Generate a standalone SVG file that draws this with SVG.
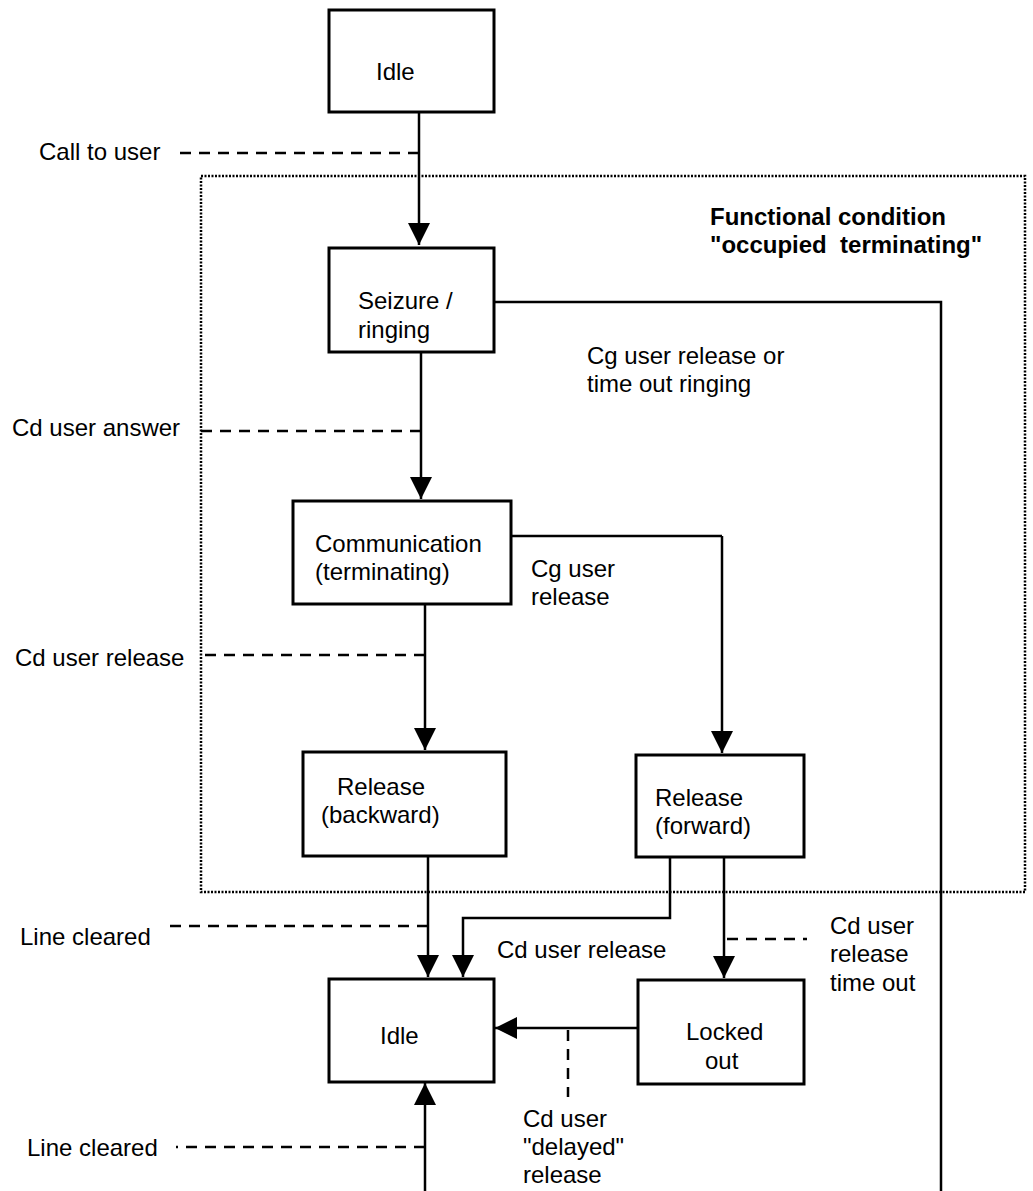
<svg xmlns="http://www.w3.org/2000/svg" width="1033" height="1191" viewBox="0 0 1033 1191">
<defs>
<marker id="arr" markerUnits="userSpaceOnUse" markerWidth="24" markerHeight="24" refX="22" refY="11" orient="auto">
<path d="M0,0 L22,11 L0,22 Z" fill="#000"/>
</marker>
<style>
text{font-family:"Liberation Sans",Arial,sans-serif;font-size:24px;fill:#000}
.b{font-weight:bold}
.box{fill:#fff;stroke:#000;stroke-width:3}
.ln{fill:none;stroke:#000;stroke-width:2.5}
.ar{fill:none;stroke:#000;stroke-width:2.5;marker-end:url(#arr)}
.dash{fill:none;stroke:#000;stroke-width:2.5;stroke-dasharray:11 8}
.dot{fill:none;stroke:#000;stroke-width:2.5;stroke-dasharray:2 1.5}
</style>
</defs>
<rect width="1033" height="1191" fill="#fff"/>

<g id="area">
<rect class="dot" x="201" y="176" width="824" height="716"/>
<text class="b" x="710" y="225">Functional condition</text>
<text class="b" x="710" y="253" xml:space="preserve">"occupied  terminating"</text>
</g>

<g id="connectors">
<path class="ar" d="M419,112 V245"/>
<path class="ln" d="M494,302 H941 V1191"/>
<path class="ar" d="M421,352 V499"/>
<path class="ln" d="M511,536 H722"/>
<path class="ar" d="M722,536 V753"/>
<path class="ar" d="M425,604 V750"/>
<path class="ar" d="M428,856 V977"/>
<path class="ar" d="M670,857 V918 H463 V977"/>
<path class="ar" d="M724,857 V978"/>
<path class="ar" d="M638,1028 H495"/>
<path class="ar" d="M425,1191 V1083"/>
<path class="dash" d="M419,153 H174"/>
<path class="dash" d="M421,431 H195"/>
<path class="dash" d="M425,655 H199"/>
<path class="dash" d="M428,926 H165"/>
<path class="dash" d="M727,939 H807"/>
<path class="dash" d="M568,1030 V1097"/>
<path class="dash" d="M425,1147 H176"/>
</g>

<g id="idle-top">
<rect class="box" x="329" y="10" width="165" height="102"/>
<text x="376" y="80">Idle</text>
</g>
<g id="seizure">
<rect class="box" x="329" y="248" width="165" height="104"/>
<text x="358" y="309">Seizure /</text>
<text x="358" y="338">ringing</text>
</g>
<g id="communication">
<rect class="box" x="293" y="501" width="218" height="103"/>
<text x="315" y="552">Communication</text>
<text x="315" y="580">(terminating)</text>
</g>
<g id="release-backward">
<rect class="box" x="303" y="752" width="203" height="104"/>
<text x="337" y="795">Release</text>
<text x="321" y="823">(backward)</text>
</g>
<g id="release-forward">
<rect class="box" x="636" y="755" width="168" height="102"/>
<text x="655" y="806">Release</text>
<text x="655" y="834">(forward)</text>
</g>
<g id="idle-bottom">
<rect class="box" x="329" y="979" width="165" height="103"/>
<text x="380" y="1044">Idle</text>
</g>
<g id="locked-out">
<rect class="box" x="638" y="980" width="166" height="104"/>
<text x="686" y="1040">Locked</text>
<text x="705" y="1069">out</text>
</g>

<g id="labels">
<text x="39" y="160">Call to user</text>
<text x="587" y="364">Cg user release or</text>
<text x="587" y="392">time out ringing</text>
<text x="12" y="436">Cd user answer</text>
<text x="531" y="577">Cg user</text>
<text x="531" y="605">release</text>
<text x="15" y="666">Cd user release</text>
<text x="20" y="945">Line cleared</text>
<text x="497" y="958">Cd user release</text>
<text x="830" y="934">Cd user</text>
<text x="830" y="962">release</text>
<text x="830" y="991">time out</text>
<text x="523" y="1127">Cd user</text>
<text x="523" y="1155">"delayed"</text>
<text x="523" y="1183">release</text>
<text x="27" y="1156">Line cleared</text>
</g>
</svg>
